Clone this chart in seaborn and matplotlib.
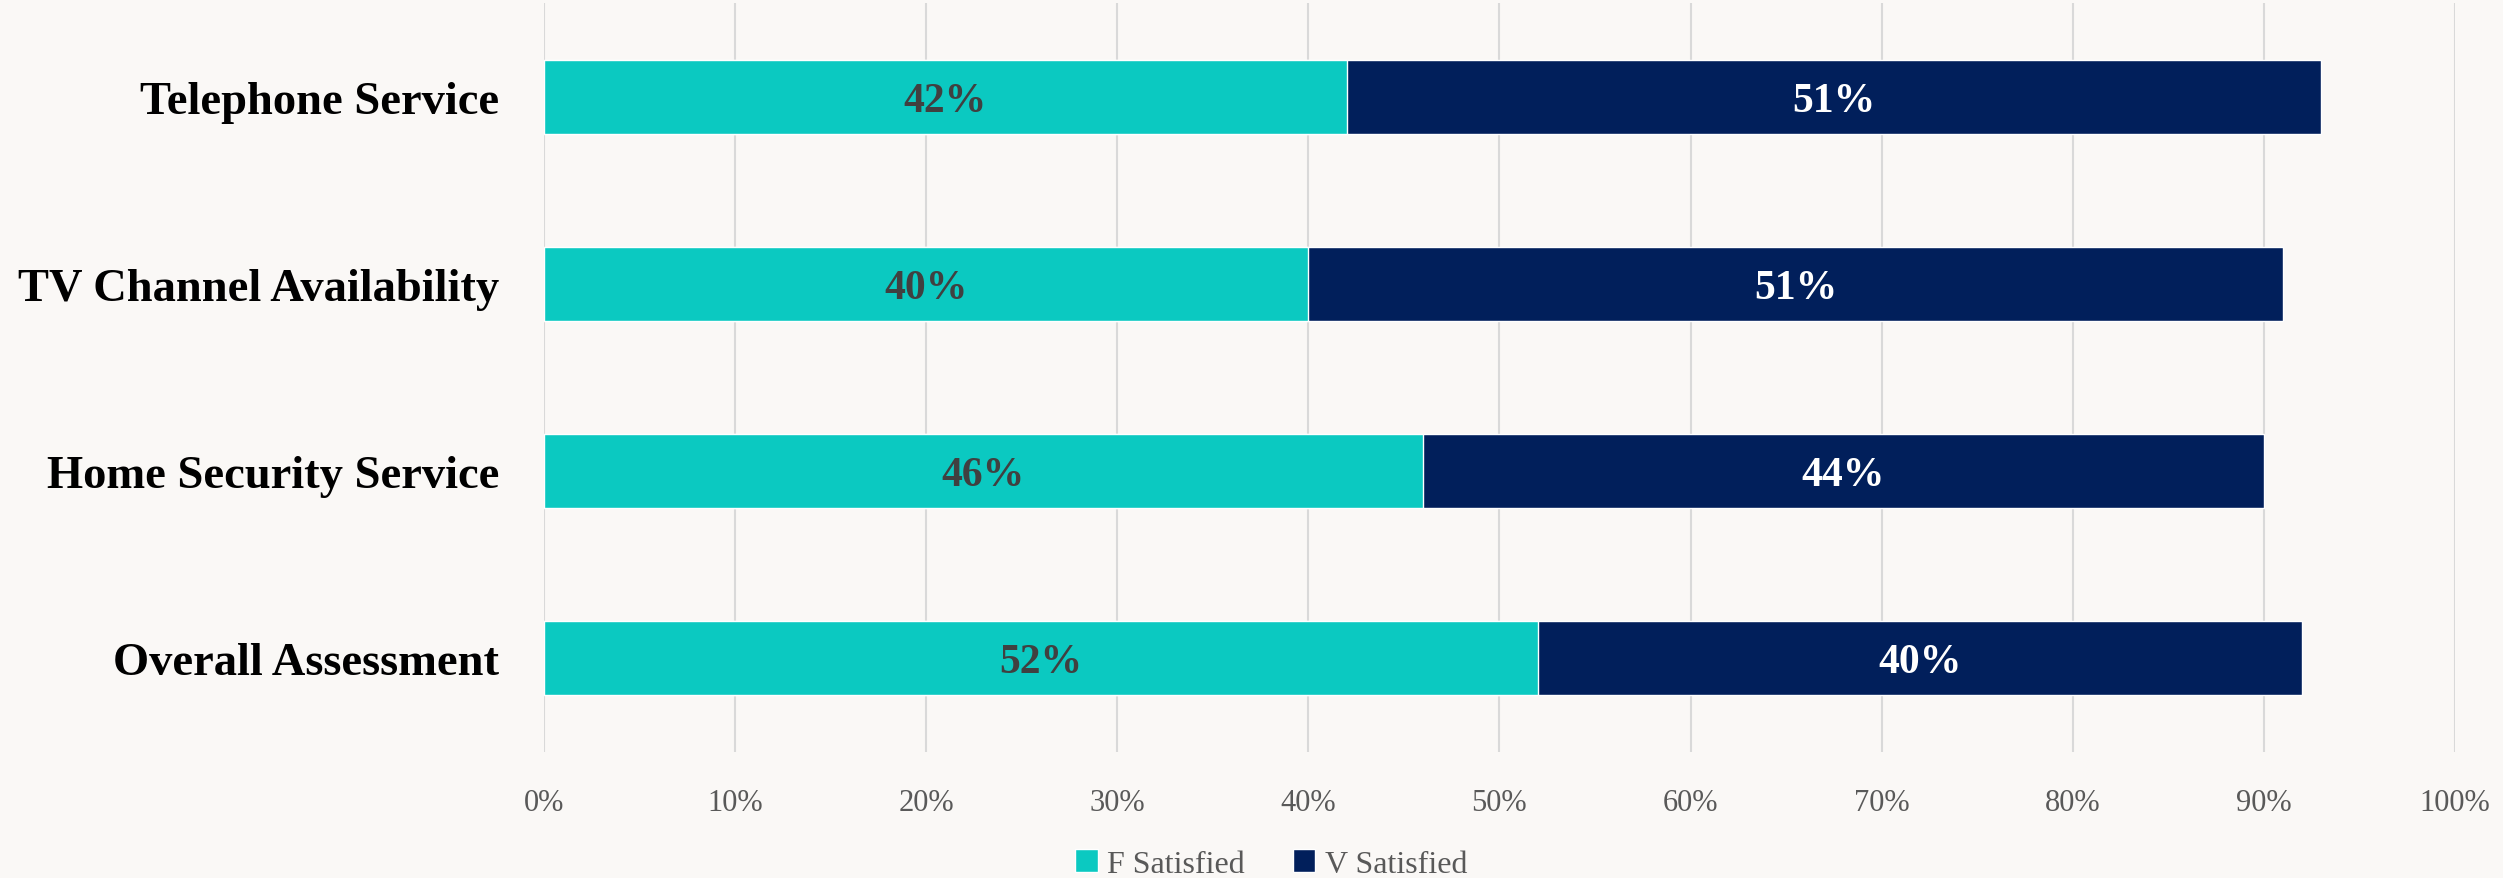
import matplotlib
matplotlib.use("Agg")
import matplotlib.pyplot as plt
import seaborn as sns
import pandas as pd
from matplotlib.patches import Patch

# Survey results: share of respondents fairly / very satisfied
categories = ["Telephone Service", "TV Channel Availability",
              "Home Security Service", "Overall Assessment"]
f_satisfied = [42, 40, 46, 52]
v_satisfied = [51, 51, 44, 40]
tick_values = [0, 10, 20, 30, 40, 50, 60, 70, 80, 90, 100]

F_COLOR = "#0BC9C1"
V_COLOR = "#011F5B"
BG = "#FAF8F6"

sns.set_theme(style="white")
plt.rcParams["font.family"] = ["Liberation Serif", "DejaVu Serif"]

df = pd.DataFrame({
    "category": categories,
    "F": f_satisfied,
    "V": v_satisfied,
})
df["total"] = df["F"] + df["V"]

fig = plt.figure(figsize=(25.03, 8.79), dpi=100, facecolor=BG)
ax = fig.add_axes([0.2173, 0.1439, 0.7635, 0.8510])
ax.set_facecolor(BG)

# Stacked bars: draw full totals in navy, then the F portion over them
sns.barplot(data=df, y="category", x="total", color=V_COLOR, orient="h",
            width=0.40, saturation=1, ax=ax, zorder=3)
sns.barplot(data=df, y="category", x="F", color=F_COLOR, orient="h",
            width=0.40, saturation=1, ax=ax, zorder=4)

for i, (f, v) in enumerate(zip(f_satisfied, v_satisfied)):
    ax.text(f / 2, i + 0.02, f"{f}%", ha="center", va="center", fontsize=30,
            fontweight="bold", color="#404040", zorder=5)
    ax.text(f + v / 2, i + 0.02, f"{v}%", ha="center", va="center", fontsize=30,
            fontweight="bold", color="white", zorder=5)

ax.set_xlim(0, 100)
ax.set_ylim(3.5, -0.5)
ax.set_xticks(tick_values)
ax.set_xticklabels([f"{t}%" for t in tick_values], fontsize=22, color="#595959")
ax.tick_params(axis="x", length=0, pad=26)
ax.tick_params(axis="y", length=0, pad=32, labelsize=33.5)
for lbl in ax.get_yticklabels():
    lbl.set_fontweight("bold")
    lbl.set_color("black")
ax.set_xlabel("")
ax.set_ylabel("")
ax.xaxis.grid(True, color="#D9D9D9", linewidth=1.5, zorder=0)
ax.set_axisbelow(True)
for s in ax.spines.values():
    s.set_visible(False)

handles = [Patch(facecolor=F_COLOR, label="F Satisfied"),
           Patch(facecolor=V_COLOR, label="V Satisfied")]
leg = fig.legend(handles=handles, loc="center", bbox_to_anchor=(0.508, 0.016),
                 ncol=2, frameon=False, fontsize=23, handlelength=0.7,
                 handleheight=0.7, handletextpad=0.3, columnspacing=1.5)
for t in leg.get_texts():
    t.set_color("#595959")

fig.savefig("out.png", dpi=100, facecolor=BG)
